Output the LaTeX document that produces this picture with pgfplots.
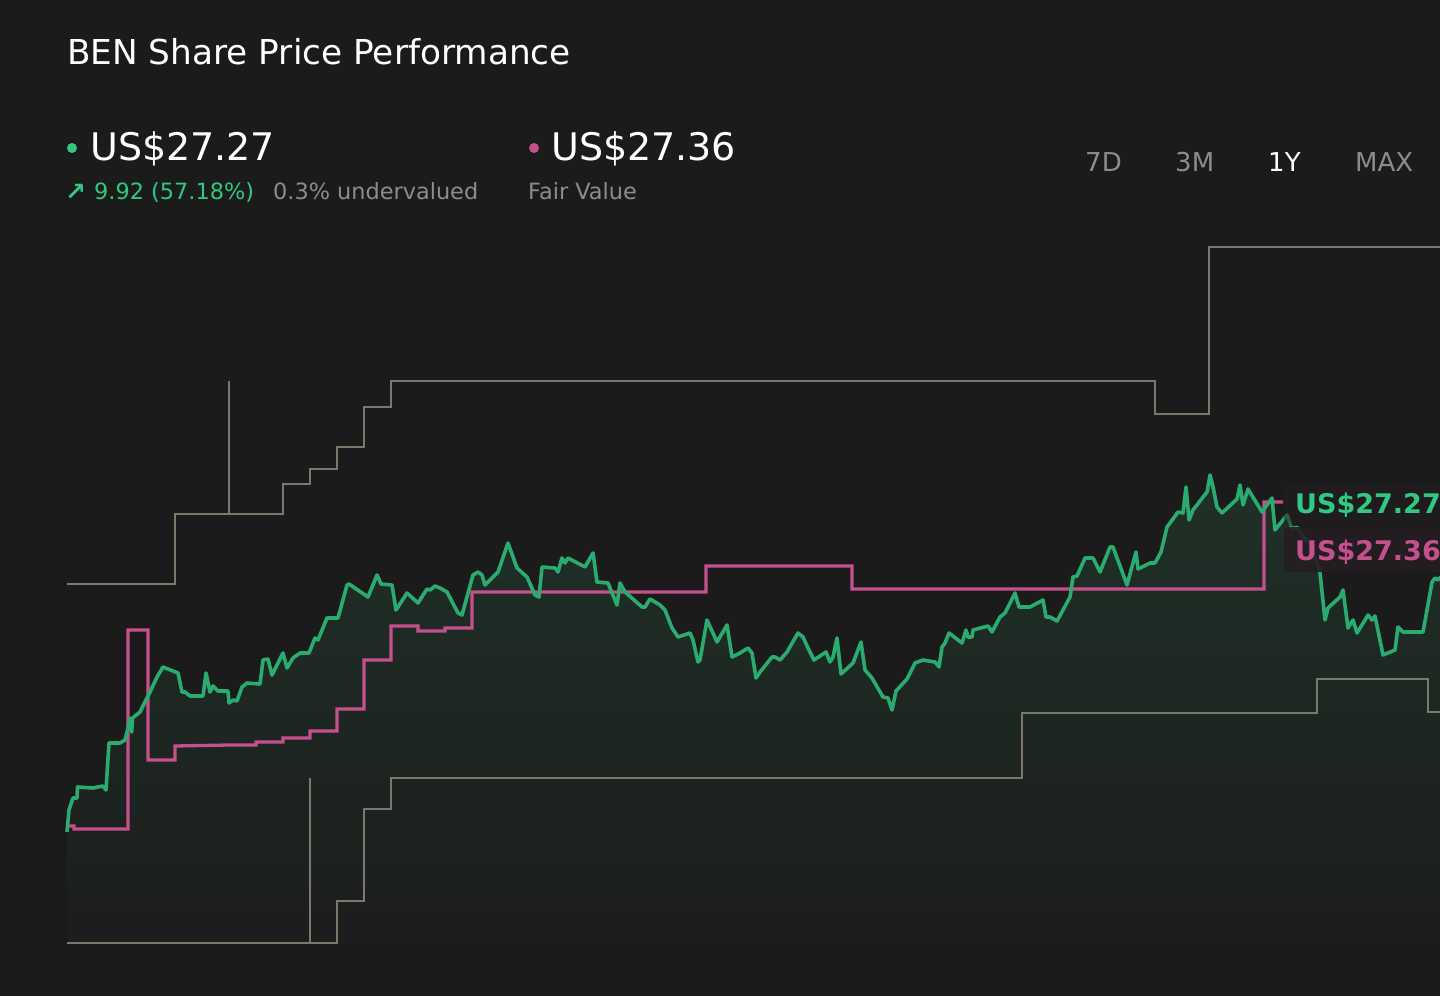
\documentclass[border=0pt]{standalone}
\usepackage{pgfplots}
\pgfplotsset{compat=1.18}
\usepackage{pgfplotstable}
\usepackage{fontspec}
\setmainfont{DejaVu Sans}
\definecolor{bg}{RGB}{27,27,27}
\definecolor{price}{RGB}{42,172,112}
\definecolor{pricetxt}{RGB}{48,200,130}
\definecolor{fair}{RGB}{198,80,142}
\definecolor{band}{RGB}{125,120,108}
\definecolor{filltop}{RGB}{31,49,39}
\definecolor{fillbot}{RGB}{28,29,29}
\definecolor{subgray}{RGB}{140,140,140}
\definecolor{boxc}{RGB}{36,30,34}

% x: horizontal position (px), y: vertical position (px, downward)
\pgfplotstableread{
x y
67 832
69 810
73 798
77 798
77.5 787
93 788
103 786
106 790
109 743
120 743
125 740
128 728
130 718
131.7 732
132.5 718
140 712
150 692
157 677
163 667
178 673
182 692
185 692
190 696
203 696
206 673
210 692
213 686
218 691
228 691
229 703
233 700
237 701
242 687
247 683
260 684
263 660
268 659
272 675
283 653
287 668
293 658
300 653
309 653
315 638
318 640
327 618
338 618
347 585
349 584
368 597
377 575
381 584
392 585
396 610
407 593
418 603
427 589
430 590
435 586
440 588
447 592
458 613
462 615
473 575
478 572
482 575
485 585
498 572
508 543
517 568
527 577
535 595
539 597
542 567
555 568
558 572
562 558
565 563
568 558
585 567
593 553
597 582
608 583
617 605
620 583
625 592
642 607
645 607
650 599
660 605
665 610
672 628
678 637
690 633
693 640
698 662
700 660
707 620
717 642
727 625
732 657
740 653
748 648
752 653
756 678
760 672
772 657
775 657
780 660
787 652
798 633
803 637
808 648
814 660
826 652
830 662
833 657
837 638
841 674
853 663
861 642
865 670
872 678
883 697
888 698
892 710
896 691
907 679
915 663
923 660
935 662
939 667
942 647
945 643
949 633
962 643
966 630
968 637
972 637
973 630
988 626
992 632
1000 617
1005 613
1015 593
1019 607
1030 607
1043 600
1046 617
1050 617
1057 621
1070 597
1073 577
1077 576
1085 558
1093 558
1100 572
1110 547
1113 547
1127 585
1136 552
1138 569
1150 563
1155 563
1161 552
1167 527
1178 512
1183 513
1186 487
1189 520
1193 510
1207 492
1210 475
1213 487
1217 507
1222 513
1237 499
1240 485
1243 505
1248 489
1262 512
1267 505
1272 498
1275 530
1287 515
1292 529
1297 527
1300 532
1310 545
1317 563
1320 573
1325 620
1328 608
1340 597
1343 590
1348 628
1353 620
1357 633
1368 615
1372 620
1375 616
1383 655
1395 650
1398 627
1403 632
1423 632
1427 610
1432 582
1435 578
1438 580
1442 576
}\pricedata

\pgfplotstableread{
x y
67 826
74 826
74 829
128 829
128 630
148 630
148 760
175 760
175 746
229 745
256 745
256 742
283 742
283 738
310 738
310 731
337 731
337 709
364 709
364 660
391 660
391 626
418 626
418 631
445 631
445 628
472 628
472 592
706 592
706 566
852 566
852 589
1264 589
1264 502
1283 502
}\fairdata

\pgfplotstableread{
x y
67 584
175 584
175 514
229 514
229 381
229 514
283 514
283 484
310 484
310 469
337 469
337 447
364 447
364 407
391 407
391 381
1155 381
1155 414
1209 414
1209 247
1445 247
}\highdata

\pgfplotstableread{
x y
67 943
310 943
310 778
310 943
337 943
337 901
364 901
364 809
391 809
391 778
1022 778
1022 713
1317 713
1317 679
1428 679
1428 712
1445 712
}\lowdata

\begin{document}
\begin{tikzpicture}
\path[use as bounding box] (0,0) rectangle (1440bp,996bp);
\clip (0,0) rectangle (1440bp,996bp);
\fill[bg] (0,0) rectangle (1440bp,996bp);
\begin{axis}[
  at={(0,0)}, anchor=south west,
  width=1440bp, height=996bp, scale only axis,
  xmin=0, xmax=1440, ymin=0, ymax=996,
  y dir=reverse, hide axis,
]
% area under the price line
\addplot[draw=none, top color=filltop, bottom color=fillbot]
  table[x=x,y=y]{\pricedata} -- (axis cs:1442,944) -- (axis cs:67,944) -- cycle;
% analyst range
\addplot[band, line width=1.7bp, line join=miter] table[x=x,y=y]{\highdata};
\addplot[band, line width=1.7bp, line join=miter] table[x=x,y=y]{\lowdata};
% fair value
\addplot[fair, line width=3.3bp, line join=miter] table[x=x,y=y]{\fairdata};
% price
\addplot[price, line width=3.6bp, line join=round] table[x=x,y=y]{\pricedata};

% end labels
\fill[boxc, opacity=0.55, rounded corners=4bp] (axis cs:1284,484) rectangle (axis cs:1470,526);
\fill[boxc, opacity=0.9, rounded corners=4bp] (axis cs:1284,527) rectangle (axis cs:1470,572);
\node[anchor=base west, inner sep=0pt, text=pricetxt] at (axis cs:1295,513)
  {\fontsize{27bp}{32bp}\selectfont\bfseries US\$27.27};
\node[anchor=base west, inner sep=0pt, text=fair] at (axis cs:1295,560)
  {\fontsize{27bp}{32bp}\selectfont\bfseries US\$27.36};

% header texts
\node[anchor=base west, inner sep=0pt, text=white] at (axis cs:67,65)
  {\fontsize{34.3bp}{40bp}\selectfont BEN Share Price Performance};
\fill[pricetxt] (axis cs:72,148) circle (5bp);
\node[anchor=base west, inner sep=0pt, text=white] at (axis cs:90,161)
  {\fontsize{38bp}{44bp}\selectfont US\$27.27};
\fill[fair] (axis cs:534,148) circle (5bp);
\node[anchor=base west, inner sep=0pt, text=white] at (axis cs:551,161)
  {\fontsize{38bp}{44bp}\selectfont US\$27.36};
\node[anchor=base west, inner sep=0pt, text=pricetxt] at (axis cs:65,201)
  {\fontsize{25bp}{28bp}\selectfont\bfseries ↗};
\node[anchor=base west, inner sep=0pt, text=pricetxt] at (axis cs:94,200)
  {\fontsize{22.4bp}{26bp}\selectfont 9.92 (57.18\%)};
\node[anchor=base west, inner sep=0pt, text=subgray] at (axis cs:273,200)
  {\fontsize{22.4bp}{26bp}\selectfont 0.3\% undervalued};
\node[anchor=base west, inner sep=0pt, text=subgray] at (axis cs:528,200)
  {\fontsize{22.4bp}{26bp}\selectfont Fair Value};
\node[anchor=base west, inner sep=0pt, text=subgray] at (axis cs:1085,172)
  {\fontsize{26bp}{30bp}\selectfont 7D};
\node[anchor=base west, inner sep=0pt, text=subgray] at (axis cs:1175,172)
  {\fontsize{26bp}{30bp}\selectfont 3M};
\node[anchor=base west, inner sep=0pt, text=white] at (axis cs:1268,172)
  {\fontsize{26bp}{30bp}\selectfont 1Y};
\node[anchor=base west, inner sep=0pt, text=subgray] at (axis cs:1355,172)
  {\fontsize{26bp}{30bp}\selectfont MAX};
\end{axis}
\end{tikzpicture}
\end{document}
